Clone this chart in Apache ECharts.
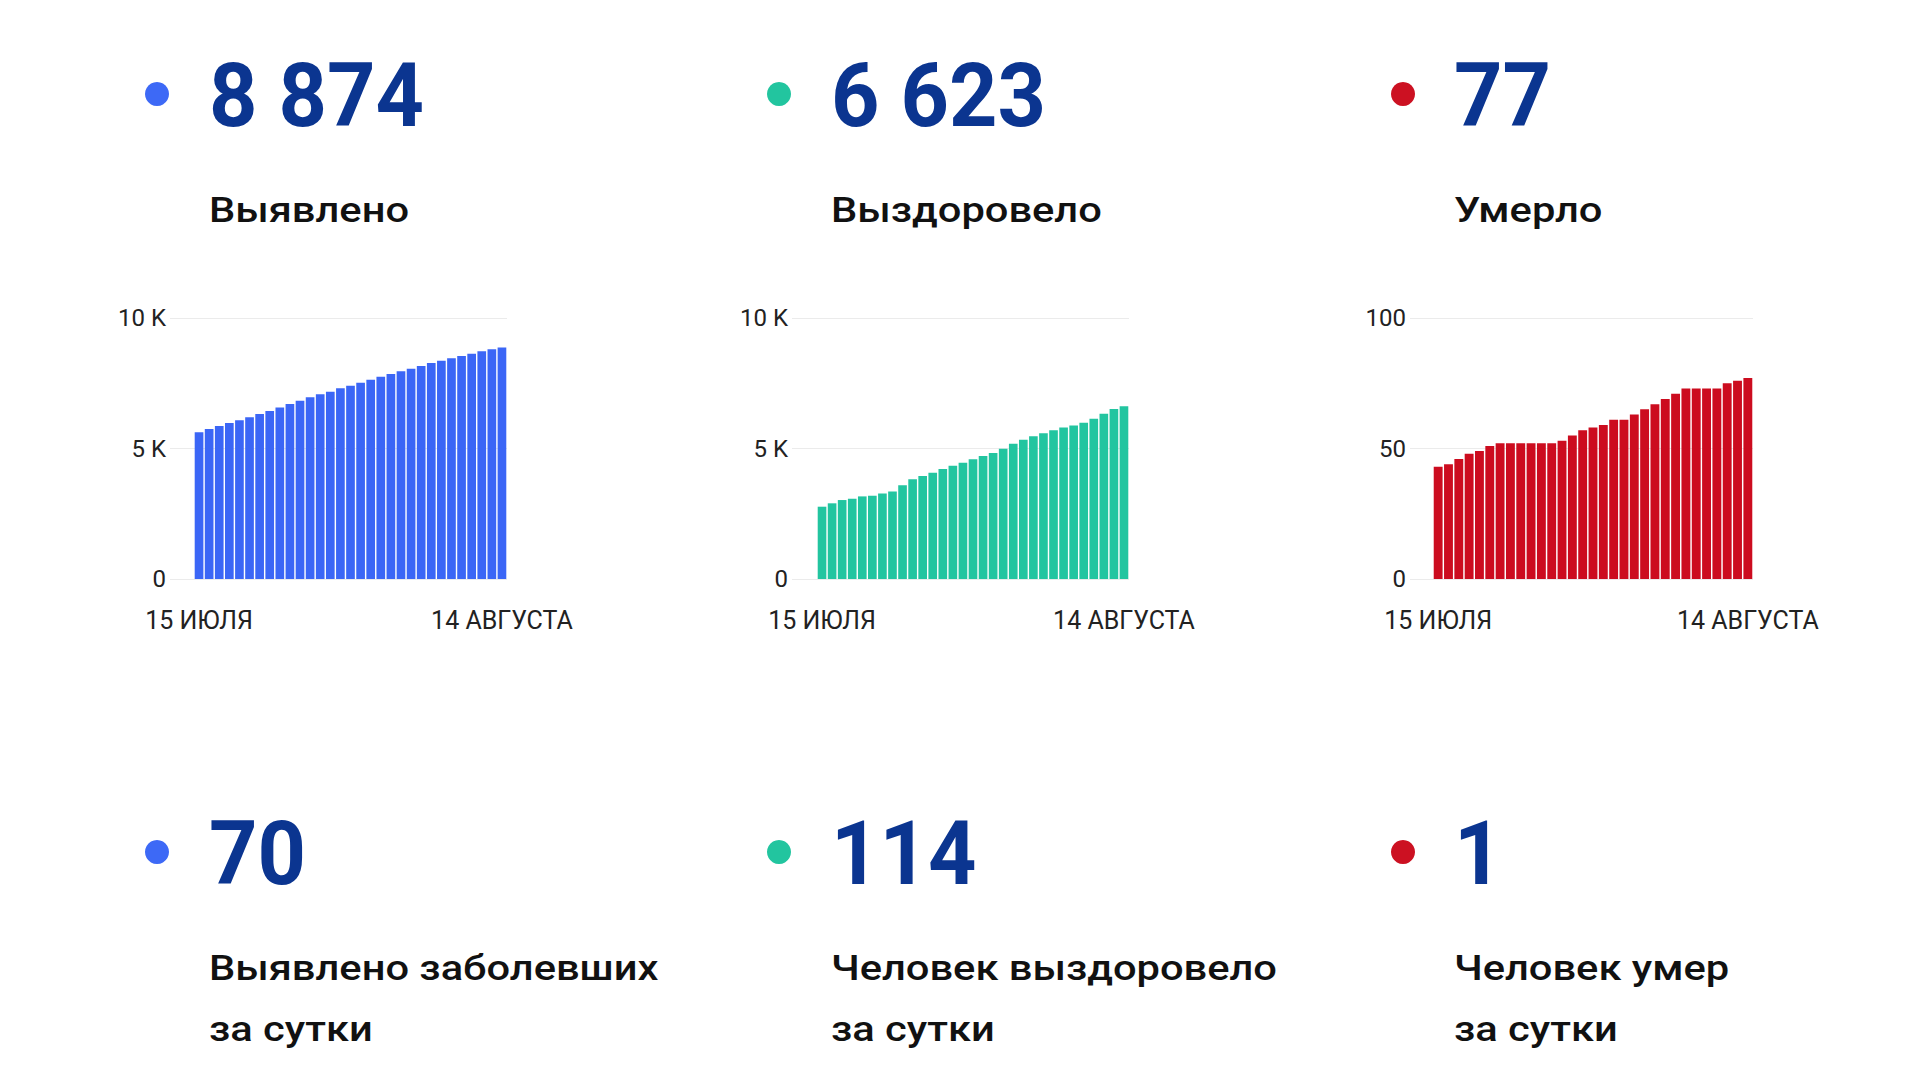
<!DOCTYPE html>
<html><head><meta charset="utf-8">
<script src="https://cdn.jsdelivr.net/npm/echarts@6/dist/echarts.min.js"></script>
<style>html,body{margin:0;padding:0;background:#fff}#c{width:1920px;height:1080px}</style>
</head><body><div id="c"></div>
<script>
// ---- data ----
const dates = ['15 ИЮЛЯ','16 ИЮЛЯ','17 ИЮЛЯ','18 ИЮЛЯ','19 ИЮЛЯ','20 ИЮЛЯ','21 ИЮЛЯ','22 ИЮЛЯ','23 ИЮЛЯ','24 ИЮЛЯ','25 ИЮЛЯ','26 ИЮЛЯ','27 ИЮЛЯ','28 ИЮЛЯ','29 ИЮЛЯ','30 ИЮЛЯ','31 ИЮЛЯ','1 АВГУСТА','2 АВГУСТА','3 АВГУСТА','4 АВГУСТА','5 АВГУСТА','6 АВГУСТА','7 АВГУСТА','8 АВГУСТА','9 АВГУСТА','10 АВГУСТА','11 АВГУСТА','12 АВГУСТА','13 АВГУСТА','14 АВГУСТА'];
const cases = [5620,5745,5860,5975,6080,6195,6320,6435,6575,6705,6830,6960,7075,7175,7305,7405,7520,7635,7750,7855,7955,8060,8160,8275,8365,8455,8545,8635,8725,8804,8874];
const recovered = [2770,2900,3025,3075,3165,3190,3280,3355,3590,3820,3945,4075,4215,4340,4455,4585,4710,4825,4990,5185,5340,5465,5580,5695,5800,5885,5990,6140,6335,6509,6623];
const deaths = [43,44,46,48,49,51,52,52,52,52,52,52,53,55,57,58,59,61,61,63,65,67,69,71,73,73,73,73,75,76,77];
const totals = [8874, 6623, 77];
const daily = [70, 114, 1];
const titles = ['Выявлено', 'Выздоровело', 'Умерло'];
const dailyTitles = [['Выявлено заболевших', 'за сутки'], ['Человек выздоровело', 'за сутки'], ['Человек умер', 'за сутки']];
const tickLabelsK = ['0', '5 K', '10 K'];
const tickLabelsDeaths = ['0', '50', '100'];

// ---- layout / style ----
const colors = ['#3b66f6', '#22c5a0', '#cc0c1f'];
const dotColors = ['#3d69f6', '#22c59f', '#cc1122'];
const navy = '#0b3590';
const FONT = 'Roboto, "Noto Sans", sans-serif';
const panels = [
  {data: cases, ticks: tickLabelsK, max: 10000, step: 5000, gl: 170, gr: 507, bl: 194},
  {data: recovered, ticks: tickLabelsK, max: 10000, step: 5000, gl: 792, gr: 1129, bl: 817},
  {data: deaths, ticks: tickLabelsDeaths, max: 100, step: 50, gl: 1410, gr: 1753, bl: 1433}
];
const dotX = [157, 779, 1403];
const textX = [209, 831, 1454];
const TOP = 318, H = 261;

const fmt = n => String(n).replace(/\B(?=(\d{3})+(?!\d))/g, ' ');

const grid = [], xAxis = [], yAxis = [], series = [];
panels.forEach((p, i) => {
  const a = grid.length;
  grid.push({left: p.gl, top: TOP, width: p.gr - p.gl, height: H, containLabel: false});
  grid.push({left: p.bl, top: TOP, width: p.gr - p.bl, height: H, containLabel: false});
  xAxis.push({gridIndex: a, type: 'category', data: dates, show: false});
  xAxis.push({gridIndex: a + 1, type: 'category', data: dates,
    axisLine: {show: false}, axisTick: {show: false},
    axisLabel: {interval: (idx) => idx === 0 || idx === dates.length - 1, color: '#222',
      fontFamily: FONT, fontSize: 25, margin: 29, hideOverlap: false}});
  yAxis.push({gridIndex: a, type: 'value', min: 0, max: p.max, interval: p.step,
    axisLine: {show: false}, axisTick: {show: false},
    splitLine: {show: true, lineStyle: {color: '#ebebeb', width: 1}},
    axisLabel: {formatter: v => p.ticks[Math.round(v / p.step)], color: '#222',
      fontFamily: FONT, fontSize: 24, margin: 4}});
  yAxis.push({gridIndex: a + 1, type: 'value', min: 0, max: p.max, interval: p.step, show: false,
    splitLine: {show: false}});
  series.push({type: 'bar', xAxisIndex: a + 1, yAxisIndex: a + 1, data: p.data,
    barCategoryGap: '14%', itemStyle: {color: colors[i]}, silent: true, animation: false});
});

const graphic = [];
const numText = (x, y, t) => ({type: 'text', x, y, scaleX: 0.95, style: {text: t, fill: navy,
  font: 'bold 89px ' + FONT, verticalAlign: 'middle', align: 'left'}});
const lblText = (x, y, t) => ({type: 'text', x, y, scaleX: 1.19, style: {text: t, fill: '#111',
  font: '500 35px ' + FONT, verticalAlign: 'middle', align: 'left'}});
for (let i = 0; i < 3; i++) {
  graphic.push({type: 'circle', shape: {cx: dotX[i], cy: 94, r: 12}, style: {fill: dotColors[i]}});
  graphic.push({type: 'circle', shape: {cx: dotX[i], cy: 852, r: 12}, style: {fill: dotColors[i]}});
  graphic.push(numText(textX[i], 95, fmt(totals[i])));
  graphic.push(numText(textX[i], 853, fmt(daily[i])));
  graphic.push(lblText(textX[i], 210, titles[i]));
  graphic.push(lblText(textX[i], 968, dailyTitles[i][0]));
  graphic.push(lblText(textX[i], 1029, dailyTitles[i][1]));
}

const chart = echarts.init(document.getElementById('c'), null, {renderer: 'svg'});
chart.setOption({
  backgroundColor: '#fff',
  animation: false,
  textStyle: {fontFamily: FONT},
  grid, xAxis, yAxis, series, graphic
});
</script></body></html>
